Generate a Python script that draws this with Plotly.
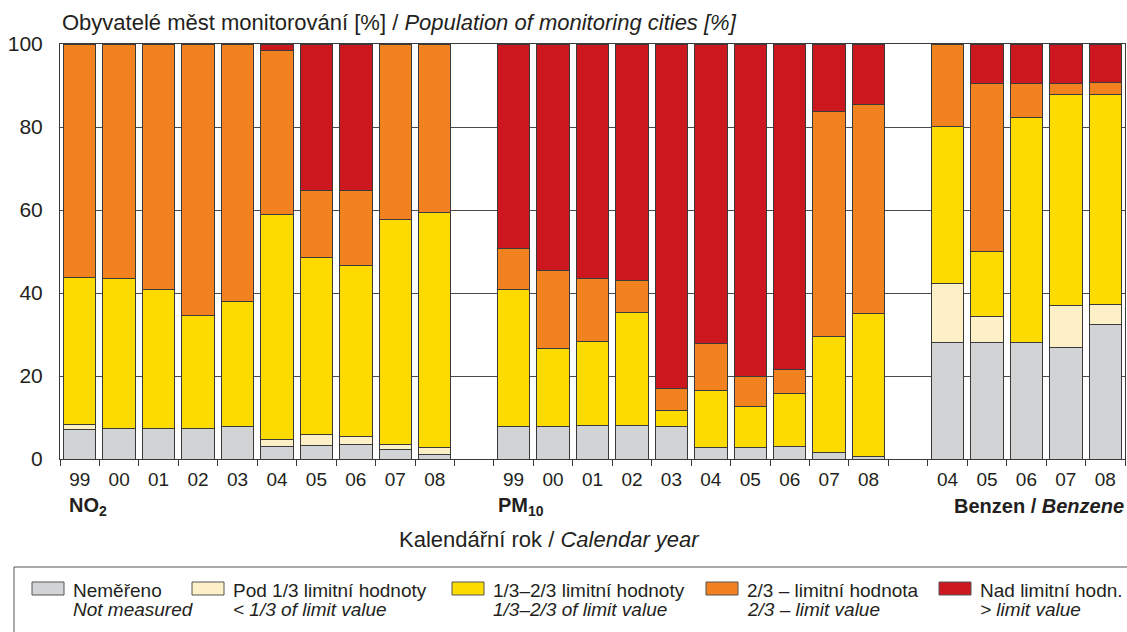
import plotly.graph_objects as go

# ---------------- data ----------------
group_names = ["NO2", "PM10", "Benzene"]
no2_years = ["99", "00", "01", "02", "03", "04", "05", "06", "07", "08"]
pm10_years = ["99", "00", "01", "02", "03", "04", "05", "06", "07", "08"]
benzene_years = ["04", "05", "06", "07", "08"]

# NO2 (share of population, %)
no2_not_measured = [7.2, 7.3, 7.3, 7.3, 7.9, 3.0, 3.2, 3.5, 2.2, 1.1]
no2_below_third = [1.1, 0.0, 0.0, 0.0, 0.0, 1.8, 2.6, 2.0, 1.3, 1.7]
no2_third_twothirds = [35.4, 36.2, 33.6, 27.3, 30.1, 54.2, 42.8, 41.2, 54.3, 56.5]
no2_twothirds_limit = [56.3, 56.5, 59.1, 65.4, 62.0, 39.4, 16.1, 18.0, 42.2, 40.7]
no2_above_limit = [0.0, 0.0, 0.0, 0.0, 0.0, 1.6, 35.3, 35.3, 0.0, 0.0]

# PM10
pm10_not_measured = [7.9, 7.9, 8.0, 8.0, 7.9, 2.8, 2.8, 3.1, 1.6, 0.6]
pm10_below_third = [0.0, 0.0, 0.0, 0.0, 0.0, 0.0, 0.0, 0.0, 0.0, 0.0]
pm10_third_twothirds = [33.0, 18.8, 20.4, 27.4, 3.9, 13.6, 9.9, 12.6, 27.9, 34.5]
pm10_twothirds_limit = [9.8, 18.7, 15.1, 7.7, 5.1, 11.5, 7.2, 5.9, 54.2, 50.4]
pm10_above_limit = [49.3, 54.6, 56.5, 56.9, 83.1, 72.1, 80.1, 78.4, 16.3, 14.5]

# Benzene
benz_not_measured = [28.1, 28.0, 28.0, 26.9, 32.3]
benz_below_third = [14.3, 6.3, 0.0, 10.0, 5.0]
benz_third_twothirds = [37.7, 15.7, 54.2, 51.0, 50.6]
benz_twothirds_limit = [19.9, 40.5, 8.3, 2.6, 2.9]
benz_above_limit = [0.0, 9.5, 9.5, 9.5, 9.2]

legend_cz = ["Neměřeno", "Pod 1/3 limitní hodnoty", "1/3–2/3 limitní hodnoty",
             "2/3 – limitní hodnota", "Nad limitní hodn."]
legend_en = ["Not measured", "< 1/3 of limit value", "1/3–2/3 of limit value",
             "2/3 – limit value", "> limit value"]
colors = ["#D1D3D4", "#FDEFC6", "#FDDB00", "#F28220", "#CC171E"]

# ---------------- layout helpers ----------------
W, H = 1127, 632
ML, MR, MT, MB = 60, 2, 44, 173
PW, PH = W - ML - MR, H - MT - MB
FONT = "Liberation Sans, Arial, Helvetica, sans-serif"
TXT = "#231F20"


def px(xp):
    return (xp - ML) / PW


def py(yp):
    return (H - MB - yp) / PH


years_by_group = [no2_years, pm10_years, benzene_years]
positions, labels = [], []
offset = 0
for yrs in years_by_group:
    for i, y in enumerate(yrs):
        positions.append(offset + i)
        labels.append(y)
    offset += len(yrs) + 1
n_slots = offset - 1

series = [
    no2_not_measured + pm10_not_measured + benz_not_measured,
    no2_below_third + pm10_below_third + benz_below_third,
    no2_third_twothirds + pm10_third_twothirds + benz_third_twothirds,
    no2_twothirds_limit + pm10_twothirds_limit + benz_twothirds_limit,
    no2_above_limit + pm10_above_limit + benz_above_limit,
]

fig = go.Figure()
for vals, col, name in zip(series, colors, legend_cz):
    fig.add_trace(go.Bar(
        x=positions, y=vals, name=name, width=0.82,
        marker=dict(color=col, line=dict(color="#3A3A3A", width=1)),
        showlegend=False,
    ))

boundaries = [-0.5 + k for k in range(n_slots + 1)]

fig.update_layout(
    width=W, height=H, barmode="stack",
    margin=dict(l=ML, r=MR, t=MT, b=MB, autoexpand=False),
    plot_bgcolor="white", paper_bgcolor="white",
    font=dict(family=FONT, color=TXT),
    xaxis=dict(
        range=[-0.5, n_slots - 0.5], tickmode="array", tickvals=positions,
        ticktext=labels, ticks="", showgrid=False, zeroline=False,
        showline=True, linecolor="#3A3A3A", linewidth=1, mirror=True,
        tickfont=dict(size=19, color=TXT), ticklabelstandoff=3,
        automargin=False,
        minor=dict(tickmode="array", tickvals=boundaries, ticks="outside",
                   ticklen=6, tickcolor="#3A3A3A", tickwidth=1, showgrid=False),
    ),
    yaxis=dict(
        range=[0, 100], tickmode="linear", tick0=0, dtick=20, ticks="",
        showgrid=True, gridcolor="#4A4A4A", gridwidth=1, zeroline=False,
        showline=True, linecolor="#3A3A3A", linewidth=1, mirror=True,
        tickfont=dict(size=21, color=TXT), ticklabelstandoff=12,
        automargin=False,
    ),
)

annotations = []
# y-axis title (top-left)
annotations.append(dict(
    x=0, y=1, xref="paper", yref="paper", xanchor="left", yanchor="middle",
    yshift=22, showarrow=False, font=dict(size=22, color=TXT),
    text="Obyvatelé měst monitorování [%] / <i>Population of monitoring cities [%]</i>",
))
# group labels
annotations.append(dict(x=px(67), y=py(506), xref="paper", yref="paper",
                        xanchor="left", yanchor="middle", showarrow=False,
                        font=dict(size=20, color=TXT), text="<b>NO<sub>2</sub></b>"))
annotations.append(dict(x=px(521), y=py(506), xref="paper", yref="paper",
                        xanchor="center", yanchor="middle", showarrow=False,
                        font=dict(size=20, color=TXT), text="<b>PM<sub>10</sub></b>"))
annotations.append(dict(x=px(1126), y=py(506), xref="paper", yref="paper",
                        xanchor="right", yanchor="middle", showarrow=False,
                        font=dict(size=20, color=TXT), text="<b>Benzen / <i>Benzene</i></b>"))
# x-axis title
annotations.append(dict(x=px(549), y=py(539), xref="paper", yref="paper",
                        xanchor="center", yanchor="middle", showarrow=False,
                        font=dict(size=22, color=TXT),
                        text="Kalendářní rok / <i>Calendar year</i>"))

shapes = []
# legend frame
shapes.append(dict(type="rect", xref="paper", yref="paper",
                   x0=px(14), x1=px(1140), y0=py(567), y1=py(650),
                   line=dict(color="#555555", width=1), fillcolor="rgba(0,0,0,0)"))
swatch_x = [32, 192, 452, 706, 939]
for sx, col, cz, en in zip(swatch_x, colors, legend_cz, legend_en):
    shapes.append(dict(type="rect", xref="paper", yref="paper",
                       x0=px(sx), x1=px(sx + 32), y0=py(595), y1=py(582),
                       line=dict(color="#555555", width=1), fillcolor=col))
    annotations.append(dict(x=px(sx + 39), y=py(590), xref="paper", yref="paper",
                            xanchor="left", yanchor="middle", showarrow=False,
                            font=dict(size=19, color=TXT), text=cz))
    annotations.append(dict(x=px(sx + 39), y=py(609), xref="paper", yref="paper",
                            xanchor="left", yanchor="middle", showarrow=False,
                            font=dict(size=19, color=TXT), text="<i>" + en + "</i>"))

fig.update_layout(annotations=annotations, shapes=shapes)
fig.write_html(
    "out.html",
    config={"displayModeBar": False},
    post_script="document.body.style.margin='0';document.body.style.overflow='hidden';",
)
